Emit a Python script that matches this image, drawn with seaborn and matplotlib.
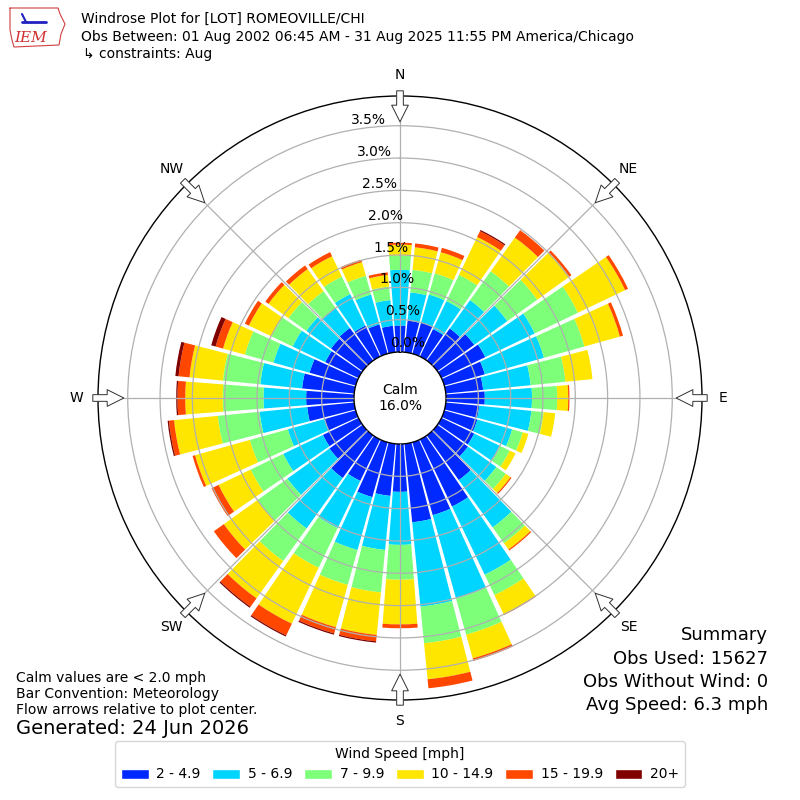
import numpy as np
import matplotlib
matplotlib.use('Agg')
import matplotlib.pyplot as plt
import seaborn as sns
from matplotlib.patches import Patch
from matplotlib.lines import Line2D

# direction the wind blows from (degrees), one bar every 10 degrees
directions = np.arange(0, 360, 10)

speed_bins = ['2 - 4.9', '5 - 6.9', '7 - 9.9', '10 - 14.9', '15 - 19.9', '20+']

# frequency (%) per direction for each speed bin
pct_2_5 = [0.41, 0.49, 0.50, 0.47, 0.61, 0.70, 0.75, 0.65, 0.58, 0.60, 0.52, 0.53,
           0.56, 0.58, 0.85, 1.15, 1.17, 1.22, 0.74, 0.81, 0.88, 0.71, 0.81, 0.63,
           0.61, 0.50, 0.73, 0.74, 0.81, 0.74, 0.57, 0.60, 0.62, 0.53, 0.47, 0.41]
pct_5_7 = [0.86, 0.44, 0.45, 0.48, 0.54, 0.63, 0.85, 0.95, 0.74, 0.73, 0.81, 0.56,
           0.45, 0.54, 0.90, 1.17, 1.34, 1.31, 0.82, 0.84, 0.85, 0.81, 0.96, 0.80,
           0.68, 0.59, 0.74, 0.66, 0.65, 0.58, 0.56, 0.47, 0.38, 0.54, 0.48, 0.40]
pct_7_10 = [0.22, 0.35, 0.34, 0.45, 0.55, 0.57, 0.74, 0.65, 0.54, 0.39, 0.19, 0.17,
            0.16, 0.18, 0.30, 0.35, 0.58, 0.57, 0.54, 0.66, 0.56, 0.68, 0.62, 0.57,
            0.56, 0.61, 0.65, 0.63, 0.58, 0.46, 0.36, 0.34, 0.32, 0.30, 0.30, 0.21]
pct_10_15 = [0.17, 0.35, 0.34, 0.65, 0.64, 0.61, 0.81, 0.57, 0.42, 0.17, 0.18, 0.09,
             0.10, 0.09, 0.12, 0.33, 0.38, 0.56, 0.69, 0.66, 0.68, 0.96, 0.71, 0.64,
             0.55, 0.88, 0.68, 0.58, 0.52, 0.35, 0.39, 0.38, 0.42, 0.35, 0.22, 0.18]
pct_15_20 = [0.03, 0.06, 0.07, 0.10, 0.14, 0.04, 0.05, 0.05, 0.00, 0.02, 0.00, 0.00,
             0.00, 0.02, 0.02, 0.01, 0.04, 0.14, 0.06, 0.10, 0.10, 0.20, 0.16, 0.19,
             0.12, 0.04, 0.08, 0.12, 0.17, 0.12, 0.07, 0.06, 0.07, 0.07, 0.04, 0.04]
pct_20p = [0.00, 0.00, 0.00, 0.02, 0.00, 0.00, 0.00, 0.00, 0.00, 0.00, 0.00, 0.00,
           0.00, 0.00, 0.00, 0.00, 0.00, 0.00, 0.00, 0.02, 0.02, 0.02, 0.02, 0.00,
           0.00, 0.00, 0.02, 0.02, 0.05, 0.07, 0.00, 0.00, 0.00, 0.00, 0.00, 0.00]

radial_ticks = [0.0, 0.5, 1.0, 1.5, 2.0, 2.5, 3.0, 3.5]
compass_labels = ['N', 'NE', 'E', 'SE', 'S', 'SW', 'W', 'NW']
calm_pct = 16.0

series = [pct_2_5, pct_5_7, pct_7_10, pct_10_15, pct_15_20, pct_20p]

sns.set_style('white')
plt.rcParams['font.family'] = ['DejaVu Sans']
plt.rcParams['text.color'] = 'black'

jet = plt.get_cmap('jet')
palette = sns.color_palette([jet(i / 6.0) for i in range(1, 7)])

fig = plt.figure(figsize=(8, 8), dpi=100)
ax = fig.add_axes([0.1225, 0.125, 0.755, 0.755], projection='polar')
ax.set_theta_zero_location('N')
ax.set_theta_direction(-1)

theta = np.radians(directions)
width = np.radians(8.8)
bottom = np.zeros(len(directions))
for vals, color, lab in zip(series, palette, speed_bins):
    vals = np.array(vals)
    ax.bar(theta, vals, width=width, bottom=bottom, color=color,
           linewidth=0, label=lab, zorder=1)
    bottom = bottom + vals

ax.set_ylim(0, 3.96)
ax.set_rorigin(-0.712)
ax.set_yticks(radial_ticks[1:])
ax.set_yticklabels([])
ax.set_xticks(np.radians(np.arange(0, 360, 45)))
ax.set_xticklabels([])
ax.grid(True, color='#b0b0b0', linewidth=0.9)
ax.set_axisbelow(False)
ax.spines['polar'].set_color('black')
ax.spines['polar'].set_linewidth(1.0)
ax.spines['inner'].set_color('black')
ax.spines['inner'].set_linewidth(1.0)

# radial labels
for r in radial_ticks:
    ax.text(np.radians(350), r + 0.15, f'{r:.1f}%', ha='left', va='center',
            fontsize=10, zorder=5)

# compass labels and flow arrows
for ang, lab in zip(np.arange(0, 360, 45), compass_labels):
    t = np.radians(ang)
    ax.text(t, 4.29, lab, ha='center', va='center', fontsize=10, clip_on=False)
    ax.annotate('', xy=(t, 3.56), xytext=(t, 4.04),
                arrowprops=dict(arrowstyle='simple,head_length=0.6,head_width=0.6,tail_width=0.24',
                                fc='white', ec='#303030', lw=0.7, shrinkA=0, shrinkB=0,
                                mutation_scale=20),
                annotation_clip=False, zorder=6)

ax.text(0, -0.712, f'Calm\n{calm_pct:.1f}%', ha='center', va='center',
        fontsize=10, multialignment='center', zorder=6)

# header
fig.text(0.101, 1 - 19 / 800, 'Windrose Plot for [LOT] ROMEOVILLE/CHI', fontsize=10, va='center')
fig.text(0.101, 1 - 37 / 800, 'Obs Between: 01 Aug 2002 06:45 AM - 31 Aug 2025 11:55 PM America/Chicago',
         fontsize=10, va='center')
fig.text(0.104, 1 - 54 / 800, '↳ constraints: Aug', fontsize=10, va='center')

# simple IEM logo
iowa_x = np.array([10, 58, 60, 65, 61, 59, 14, 12, 10, 10]) / 800
iowa_y = 1 - np.array([8, 8, 14, 24, 34, 45, 47, 40, 30, 8]) / 800
fig.add_artist(Line2D(iowa_x, iowa_y, color='#d04040', lw=0.8))
fig.add_artist(Line2D(np.array([22, 46]) / 800, 1 - np.array([22, 22]) / 800, color='#2020c0', lw=2))
fig.add_artist(Line2D(np.array([22, 26]) / 800, 1 - np.array([14, 22]) / 800, color='#2020c0', lw=1.5))
fig.text(31 / 800, 1 - 38 / 800, 'IEM', color='#d03030', fontsize=11, ha='center', va='center',
         family='DejaVu Serif', style='italic')

# footnotes
fig.text(0.02, 1 - 678 / 800, 'Calm values are < 2.0 mph', fontsize=10, va='center')
fig.text(0.02, 1 - 694 / 800, 'Bar Convention: Meteorology', fontsize=10, va='center')
fig.text(0.02, 1 - 710 / 800, 'Flow arrows relative to plot center.', fontsize=10, va='center')
fig.text(0.02, 1 - 729 / 800, 'Generated: 24 Jun 2026', fontsize=14, va='center')

summary = ['Summary', 'Obs Used: 15627', 'Obs Without Wind: 0', 'Avg Speed: 6.3 mph']
for i, line in enumerate(summary):
    fig.text(0.96, 1 - (635 + 23.5 * i) / 800, line, fontsize=13, ha='right', va='center')

handles = [Patch(facecolor=c, label=l) for c, l in zip(palette, speed_bins)]
fig.legend(handles=handles, loc='lower center', bbox_to_anchor=(0.5, 0.0075), ncol=6,
           title='Wind Speed [mph]', fontsize=10, title_fontsize=10,
           handlelength=2.0, handletextpad=0.55, columnspacing=0.85, frameon=True)

fig.savefig('out.png', dpi=100)
